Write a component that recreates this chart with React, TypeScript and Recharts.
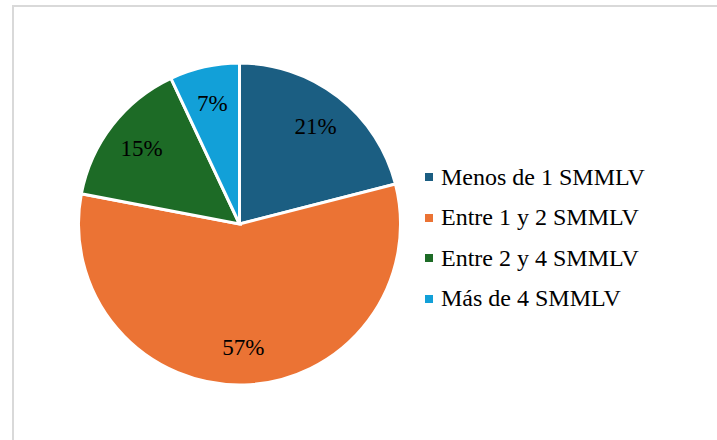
import { PieChart, Pie, Cell, Legend } from "recharts";

const categories = ["Menos de 1 SMMLV", "Entre 1 y 2 SMMLV", "Entre 2 y 4 SMMLV", "Más de 4 SMMLV"];
const shares = [21, 57, 15, 7];
const colors = ["#1b5e82", "#eb7334", "#1d6b26", "#12a0d8"];

const data = categories.map((name, i) => ({ name, value: shares[i] }));

const RAD = Math.PI / 180;
const FONT = '"Times New Roman", Times, "Liberation Serif", "DejaVu Serif", serif';

function renderLabel(props: any) {
  const { cx, cy, midAngle, outerRadius, value } = props;
  const r = outerRadius * 0.77;
  const x = cx + r * Math.cos(-midAngle * RAD);
  const y = cy + r * Math.sin(-midAngle * RAD);
  return (
    <text
      x={x}
      y={y}
      fill="#000"
      style={{ fontFamily: FONT, fontSize: 23 }}
      textAnchor="middle"
      dominantBaseline="central"
    >
      {`${value}%`}
    </text>
  );
}

function LegendContent() {
  return (
    <div style={{ fontFamily: FONT, fontSize: 24, color: "#000" }}>
      {categories.map((name, i) => (
        <div key={name} style={{ display: "flex", alignItems: "center", height: 40.5 }}>
          <span
            style={{
              display: "inline-block",
              width: 8,
              height: 8,
              background: colors[i],
              marginRight: 8,
            }}
          />
          <span style={{ whiteSpace: "nowrap" }}>{name}</span>
        </div>
      ))}
    </div>
  );
}

export default function App() {
  return (
    <div
      style={{
        position: "absolute",
        left: 0,
        top: 0,
        width: 717,
        height: 440,
        background: "#fff",
        overflow: "hidden",
        fontFamily: FONT,
      }}
    >
      <div
        style={{
          position: "absolute",
          left: 12,
          top: 5,
          width: 720,
          height: 450,
          border: "2px solid #d9d9d9",
        }}
      />
      <div style={{ position: "absolute", left: 0, top: 0 }}>
        <PieChart width={717} height={440} margin={{ top: 0, right: 0, bottom: 0, left: 0 }}>
          <Pie
            data={data}
            dataKey="value"
            nameKey="name"
            cx={239.5}
            cy={224}
            outerRadius={161}
            startAngle={90}
            endAngle={-270}
            stroke="#fff"
            strokeWidth={3}
            label={renderLabel}
            labelLine={false}
            isAnimationActive={false}
          >
            {data.map((d, i) => (
              <Cell key={d.name} fill={colors[i]} />
            ))}
          </Pie>
          <Legend
            content={<LegendContent />}
            layout="vertical"
            wrapperStyle={{ left: 425, top: 157, width: 280, bottom: "auto" }}
          />
        </PieChart>
      </div>
    </div>
  );
}
